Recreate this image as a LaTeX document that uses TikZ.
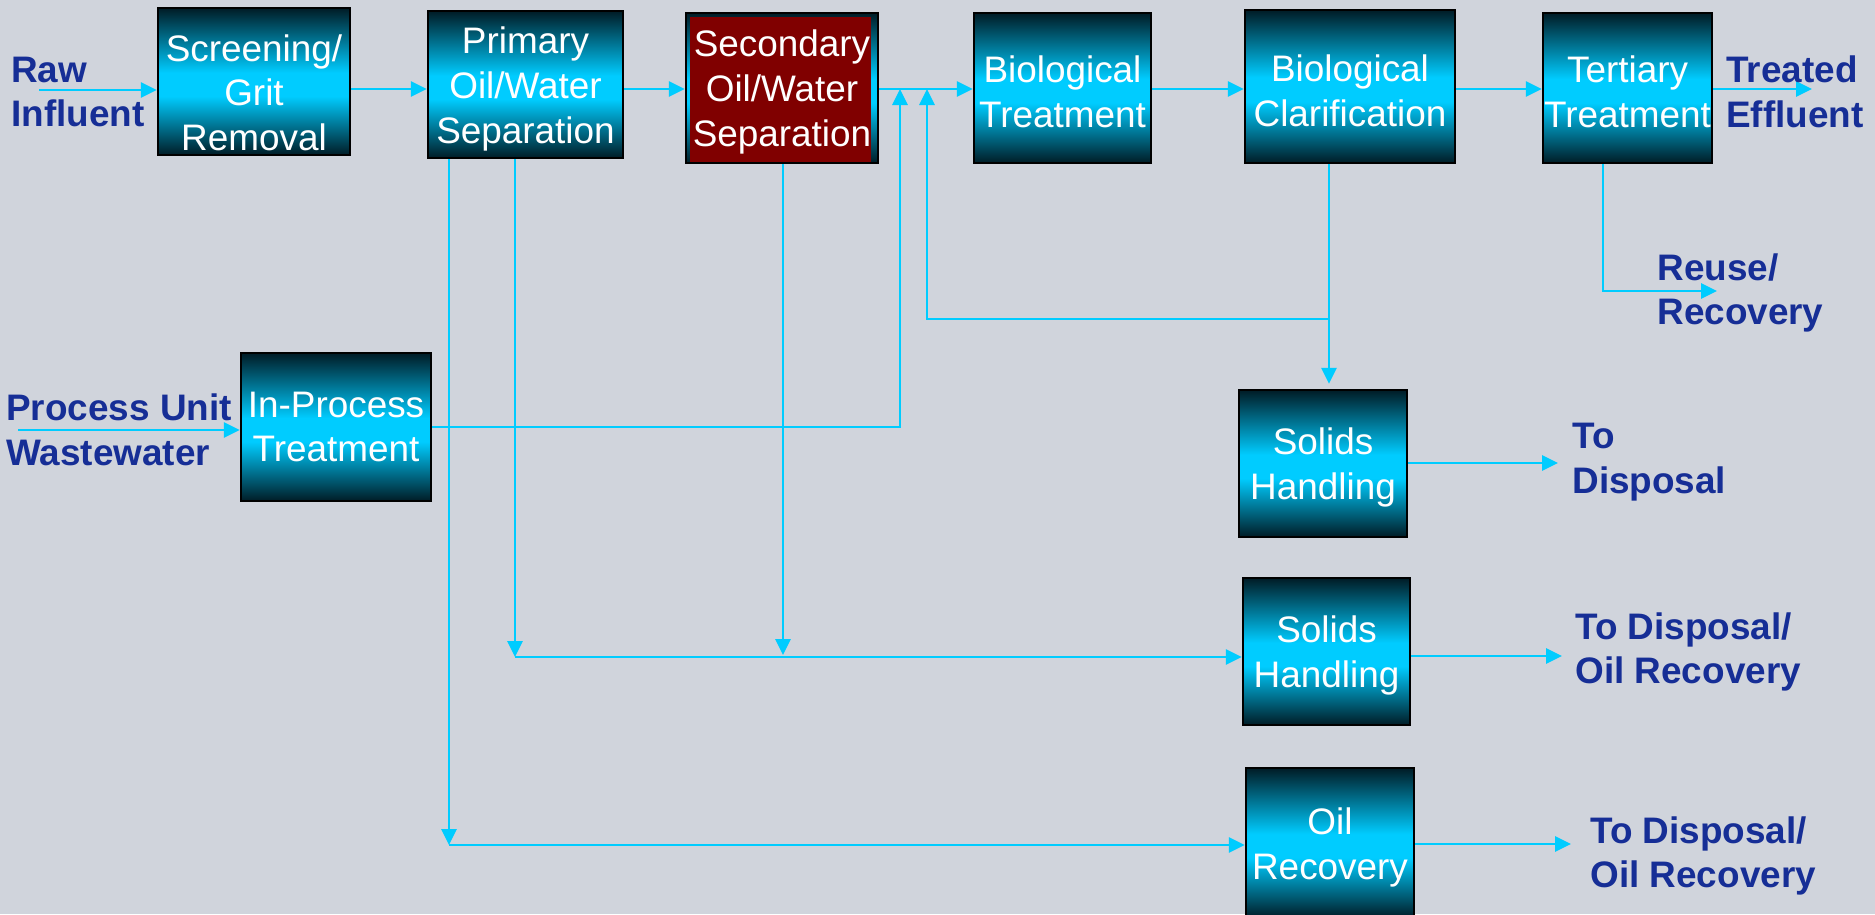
\documentclass[tikz,border=0pt]{standalone}
\usepackage{fontspec}
\setmainfont{Liberation Sans}
\usepackage{xcolor}
\usetikzlibrary{arrows.meta,positioning,calc}
\definecolor{backgr}{RGB}{208,212,220}
\definecolor{flowcyan}{RGB}{0,204,255}
\definecolor{boxdark}{RGB}{0,28,38}
\definecolor{boxcyan}{RGB}{0,204,255}
\definecolor{secred}{RGB}{128,0,0}
\definecolor{labelblue}{RGB}{22,46,150}
\pgfdeclareverticalshading{unitshade}{100bp}{color(0bp)=(boxdark); color(25bp)=(boxdark);
  color(45bp)=(boxcyan); color(53bp)=(boxcyan); color(75bp)=(boxdark); color(100bp)=(boxdark)}
% strut on the first line, pushes the text a bit down in its box
\newcommand{\boxtop}[1][20pt]{\rule{0pt}{#1}}
\tikzset{%
  >={Triangle[width=0.3cm,length=0.32cm]},
  % Specifications for style of nodes:
        unit/.style = {rectangle, draw=black, line width=0.05cm,
                       shading=unitshade, inner sep=0pt, align=center,
                       text=white, font=\fontsize{21}{25.5}\selectfont},
     redunit/.style = {unit, path picture={\fill[secred]
                       ([xshift=0.08cm,yshift=-0.08cm]path picture bounding box.north west)
                       rectangle ([xshift=-0.14cm]path picture bounding box.south east);}},
    outlabel/.style = {anchor=west, align=left, inner sep=0pt, text=labelblue,
                       font=\fontsize{21}{25.5}\selectfont\bfseries},
        flow/.style = {->, draw=flowcyan, line width=0.055cm},
}

\begin{document}
\begin{tikzpicture}[x=0.02cm, y=-0.02cm]
  \fill[backgr] (0,0) rectangle (1875,914);
  \useasboundingbox (0,0) rectangle (1875,914);
  % Specification of nodes (position, etc.)
  \node (screen) [unit, minimum width=3.84cm, minimum height=2.94cm] at (254,81.5) {\boxtop[28pt]Screening/\\Grit\\Removal};
  \node (prim)   [unit, minimum width=3.9cm, minimum height=2.94cm] at (525.5,84.5) {\boxtop Primary\\Oil/Water\\Separation};
  \node (sec)    [redunit, minimum width=3.84cm, minimum height=3cm] at (782,88) {\boxtop Secondary\\Oil/Water\\Separation};
  \node (biot)   [unit, minimum width=3.54cm, minimum height=3cm] at (1062.5,88) {\boxtop Biological\\Treatment};
  \node (clarif) [unit, minimum width=4.2cm, minimum height=3.06cm] at (1350,86.5) {\boxtop Biological\\Clarification};
  \node (tert)   [unit, minimum width=3.38cm, minimum height=3cm] at (1627.5,88) {\boxtop Tertiary\\Treatment};
  \node (inproc) [unit, minimum width=3.8cm, minimum height=2.96cm] at (336,427) {In-Process\\Treatment};
  \node (sol1)   [unit, minimum width=3.36cm, minimum height=2.94cm] at (1323,463.5) {\boxtop Solids\\Handling};
  \node (sol2)   [unit, minimum width=3.34cm, minimum height=2.94cm] at (1326.5,651.5) {\boxtop Solids\\Handling};
  \node (oil)    [unit, minimum width=3.36cm, minimum height=3cm] at (1330,843) {\boxtop Oil\\Recovery};
  % points where the lines turn or end
  \coordinate (mainy)    at (0,89);
  \coordinate (rawstart) at (39,90);
  \coordinate (pustart)  at (18,430);
  \coordinate (effend)   at (1812,89);
  \coordinate (jin)      at (900,89);
  \coordinate (jrec)     at (927,89);
  \coordinate (recbend)  at (1329,319);
  \coordinate (reusebend) at (1603,291);
  \coordinate (reuseend) at (1717,291);
  \coordinate (oilx)     at (449,845);
  \coordinate (solx)     at (515,657);
  \coordinate (secx)     at (783,655);
  \coordinate (dis1)     at (1558,463);
  \coordinate (dis2)     at (1562,656);
  \coordinate (dis3)     at (1571,844);
  % Specification of lines between nodes specified above
  \draw[flow] (rawstart) -- (screen.west |- rawstart);
  \draw[flow] (screen.east |- mainy) -- (prim.west |- mainy);
  \draw[flow] (prim.east |- mainy) -- (sec.west |- mainy);
  \draw[flow] (sec.east |- mainy) -- (biot.west |- mainy);
  \draw[flow] (biot.east |- mainy) -- (clarif.west |- mainy);
  \draw[flow] (clarif.east |- mainy) -- (tert.west |- mainy);
  \draw[flow] (tert.east |- mainy) -- (effend);
  \draw[flow] (tert.south -| reusebend) |- (reuseend);
  \draw[flow] (pustart) -- (inproc.west |- pustart);
  \draw[flow] (inproc.east) -| (jin);
  \draw[flow] (recbend) -| (jrec);
  \draw[flow, shorten >=0.1cm] (clarif.south -| recbend) -- (sol1.north -| recbend);
  \draw[flow] (prim.south -| solx) -- (solx);
  \draw[flow] (sec.south -| secx) -- (secx);
  \draw[flow] (solx) -- (sol2.west |- solx);
  \draw[flow] (prim.south -| oilx) -- (oilx);
  \draw[flow] (oilx) -- (oil.west |- oilx);
  \draw[flow] (sol1.east |- dis1) -- (dis1);
  \draw[flow] (sol2.east |- dis2) -- (dis2);
  \draw[flow] (oil.east |- dis3) -- (dis3);
  % text beside the inlets and outlets
  \node (rawlbl)   [outlabel] at (11,92)   {Raw\\Influent};
  \node (pulbl)    [outlabel] at (6,430)   {Process Unit\\Wastewater};
  \node (efflbl)   [outlabel] at (1726,92) {Treated\\Effluent};
  \node (reuselbl) [outlabel] at (1657,293) {Reuse/\\Recovery};
  \node (dislbl)   [outlabel] at (1572,462) {To\\Disposal};
  \node (dis2lbl)  [outlabel] at (1575,652) {To Disposal/\\Oil Recovery};
  \node (dis3lbl)  [outlabel] at (1590,856) {To Disposal/\\Oil Recovery};
\end{tikzpicture}
\end{document}
